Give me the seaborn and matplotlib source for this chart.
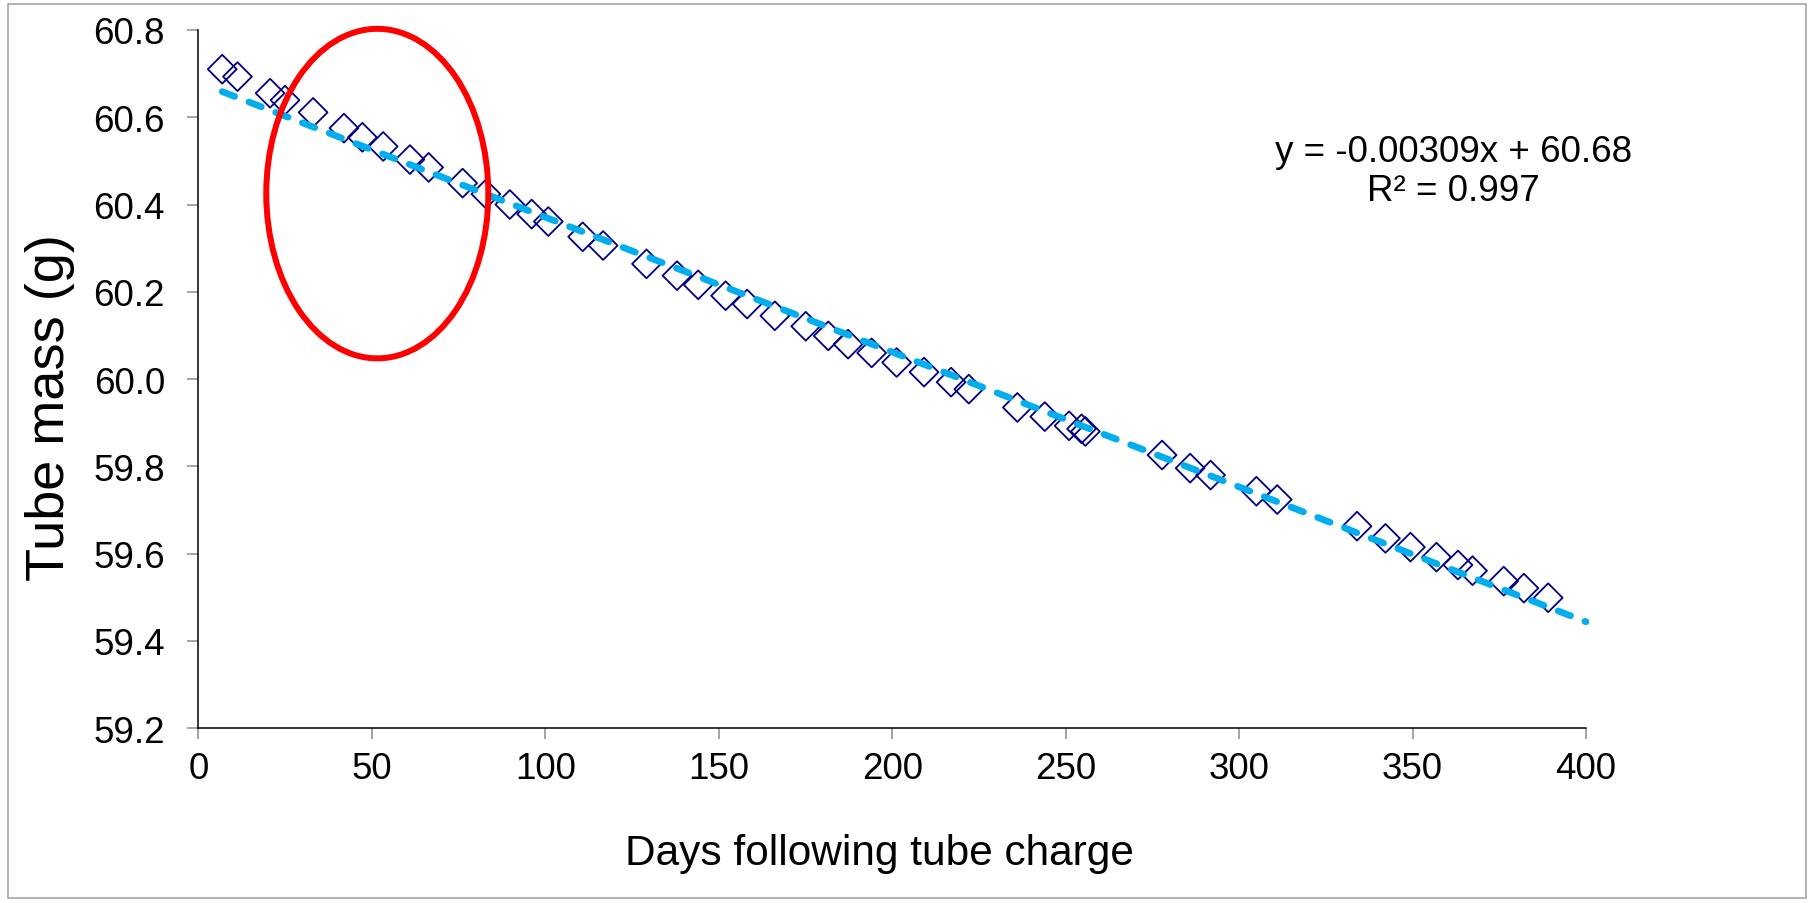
import matplotlib
matplotlib.use("Agg")
import matplotlib.pyplot as plt
from matplotlib.patches import Ellipse, Rectangle
import numpy as np
import pandas as pd
import seaborn as sns

# Measured tube mass against days since charging
days = [6.9, 11.3, 20.7, 25.0, 33.1, 42.0, 47.3, 53.3, 61.0, 66.4,
        76.2, 82.9, 89.8, 96.1, 100.9, 110.8, 116.7, 129.2, 138.0, 144.1,
        152.0, 158.2, 166.2, 175.1, 181.6, 187.3, 194.1, 201.3, 209.2, 217.0,
        222.1, 236.1, 244.0, 251.0, 254.6, 255.7, 277.8, 285.9, 291.8, 305.0,
        311.0, 334.0, 342.2, 349.4, 356.9, 363.1, 367.3, 376.3, 382.1, 389.1]
mass = [60.710, 60.693, 60.655, 60.639, 60.611, 60.575, 60.554, 60.533, 60.503, 60.485,
        60.449, 60.424, 60.400, 60.378, 60.361, 60.326, 60.306, 60.264, 60.237, 60.216,
        60.191, 60.172, 60.145, 60.121, 60.099, 60.080, 60.060, 60.038, 60.016, 59.993,
        59.977, 59.935, 59.914, 59.893, 59.886, 59.880, 59.826, 59.796, 59.780, 59.743,
        59.724, 59.663, 59.635, 59.615, 59.592, 59.574, 59.561, 59.537, 59.521, 59.499]

# Linear trend shown in the equation box
slope = -0.00309
intercept = 60.68
r_squared = 0.997
trend_end = 400

x_ticks = [0, 50, 100, 150, 200, 250, 300, 350, 400]
y_ticks = [59.2, 59.4, 59.6, 59.8, 60.0, 60.2, 60.4, 60.6, 60.8]

# Highlighted region (centre, width, height in data units)
ring_center = (51.6, 60.425)
ring_width = 64.0
ring_height = 0.755

sns.set_style("ticks")
plt.rcParams["font.family"] = ["Liberation Sans", "DejaVu Sans"]

df = pd.DataFrame({"days": days, "mass": mass})
trend_x = np.array([days[0], trend_end])
trend_df = pd.DataFrame({"days": trend_x, "mass": slope * trend_x + intercept})

fig = plt.figure(figsize=(18.14, 9.04), dpi=100)
ax = fig.add_axes([0.1093, 0.1933, 0.765, 0.7725])

sns.scatterplot(data=df, x="days", y="mass", ax=ax, marker="D", s=215,
                facecolor="none", edgecolor="#000080", linewidth=1.3,
                zorder=3, clip_on=False)
sns.lineplot(data=trend_df, x="days", y="mass", ax=ax, color="#00AEEF",
             linewidth=4.8, linestyle=(0, (2.0, 2.3)),
             dash_capstyle="round", zorder=4, clip_on=False)

ring = Ellipse(ring_center, ring_width, ring_height, fill=False,
               edgecolor="#FF0000", linewidth=4.3, zorder=5, clip_on=False)
ax.add_patch(ring)

ax.set_xlim(0, 400)
ax.set_ylim(59.2, 60.8)
ax.set_xticks(x_ticks)
ax.set_yticks(y_ticks)
ax.set_xticklabels([str(v) for v in x_ticks])
ax.set_yticklabels([f"{v:.1f}" for v in y_ticks])

for side in ("top", "right"):
    ax.spines[side].set_visible(False)
for side in ("left", "bottom"):
    ax.spines[side].set_color("black")
    ax.spines[side].set_linewidth(1.1)

ax.tick_params(axis="both", direction="out", length=7.9, width=1.1,
               color="#8C8C8C", labelsize=26.5, labelcolor="black")
ax.tick_params(axis="y", pad=16)
ax.tick_params(axis="x", pad=8.6)

ax.set_xlabel("Days following tube charge", fontsize=30.5, color="black")
ax.set_ylabel("Tube mass (g)", fontsize=39, color="black")
ax.xaxis.set_label_coords(0.491, -0.150)
ax.yaxis.set_label_coords(-0.089, 0.46)

ax.text(0.9047, 0.798, f"y = {slope:.5f}x + {intercept:.2f}\nR² = {r_squared:.3f}",
        transform=ax.transAxes, ha="center", va="center", multialignment="center",
        fontsize=26.5, linespacing=1.15, color="black")

# Thin grey frame around the whole chart area
fig.patches.append(Rectangle((0.0044, 0.0055), 0.991, 0.989, transform=fig.transFigure,
                             fill=False, edgecolor="#A6A6A6", linewidth=1.2))

fig.savefig("out.png", dpi=100)
